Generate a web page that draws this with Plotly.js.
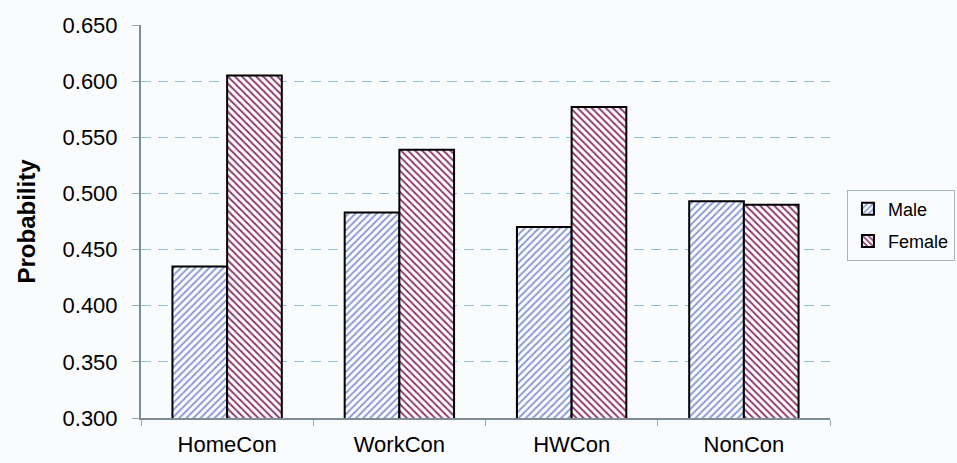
<!DOCTYPE html>
<html><head><meta charset="utf-8">
<script src="https://cdn.plot.ly/plotly-3.0.1.min.js"></script>
<style>html,body{margin:0;padding:0;background:#fafbfd;}</style>
</head><body>
<div id="chart" style="width:957px;height:463px;"></div>
<script>
const categories = ["HomeCon", "WorkCon", "HWCon", "NonCon"];
const maleValues = [0.435, 0.483, 0.470, 0.493];
const femaleValues = [0.605, 0.539, 0.577, 0.490];
const yTicks = [0.300, 0.350, 0.400, 0.450, 0.500, 0.550, 0.600, 0.650];
const yTickLabels = ["0.300", "0.350", "0.400", "0.450", "0.500", "0.550", "0.600", "0.650"];

const traces = [
  {type: "bar", name: "Male", x: categories, y: maleValues, legendgroup: "m",
   marker: {color: "#ffffff", line: {color: "#000000", width: 2},
            pattern: {shape: "/", fgcolor: "#8a9ad8", bgcolor: "#ffffff", size: 5, solidity: 0.4}}},
  {type: "bar", name: "Female", x: categories, y: femaleValues, legendgroup: "f",
   marker: {color: "#ffffff", line: {color: "#000000", width: 2},
            pattern: {shape: "\\", fgcolor: "#8e3a6e", bgcolor: "#ffffff", size: 5, solidity: 0.4}}}
];

const layout = {
  width: 957, height: 463,
  margin: {l: 141, r: 127, t: 25, b: 45},
  paper_bgcolor: "#fafbfd", plot_bgcolor: "#fafbfd",
  barmode: "group", bargap: 0.365, bargroupgap: 0,
  font: {family: "Liberation Sans, Arial, sans-serif", color: "#000000"},
  xaxis: {type: "category", showline: true, linecolor: "#7f8c96", linewidth: 2,
          ticks: "outside", tickson: "boundaries", ticklen: 6, tickcolor: "#9aa4ac",
          tickfont: {size: 22}, showgrid: false, zeroline: false, ticklabelstandoff: 6},
  yaxis: {range: [0.3, 0.65], tickvals: yTicks, ticktext: yTickLabels,
          showline: true, linecolor: "#7f8c96", linewidth: 2,
          ticks: "outside", ticklen: 7, tickcolor: "#9aa4ac",
          tickfont: {size: 22}, showgrid: true, gridcolor: "#8fc0dc", griddash: "10px,7px", gridwidth: 1,
          zeroline: false, ticklabelstandoff: 10,
          title: {text: "<b>Probability</b>", font: {size: 24}, standoff: 20}},
  legend: {xref: "container", yref: "container", x: 0.885, y: 0.514, xanchor: "left", yanchor: "middle",
           bordercolor: "#a8b4bc", borderwidth: 1, bgcolor: "#fafbfd",
           font: {size: 18}, traceorder: "grouped", tracegroupgap: 6, itemwidth: 30},
  showlegend: true
};

Plotly.newPlot("chart", traces, layout, {displayModeBar: false, staticPlot: true});
</script>
</body></html>
